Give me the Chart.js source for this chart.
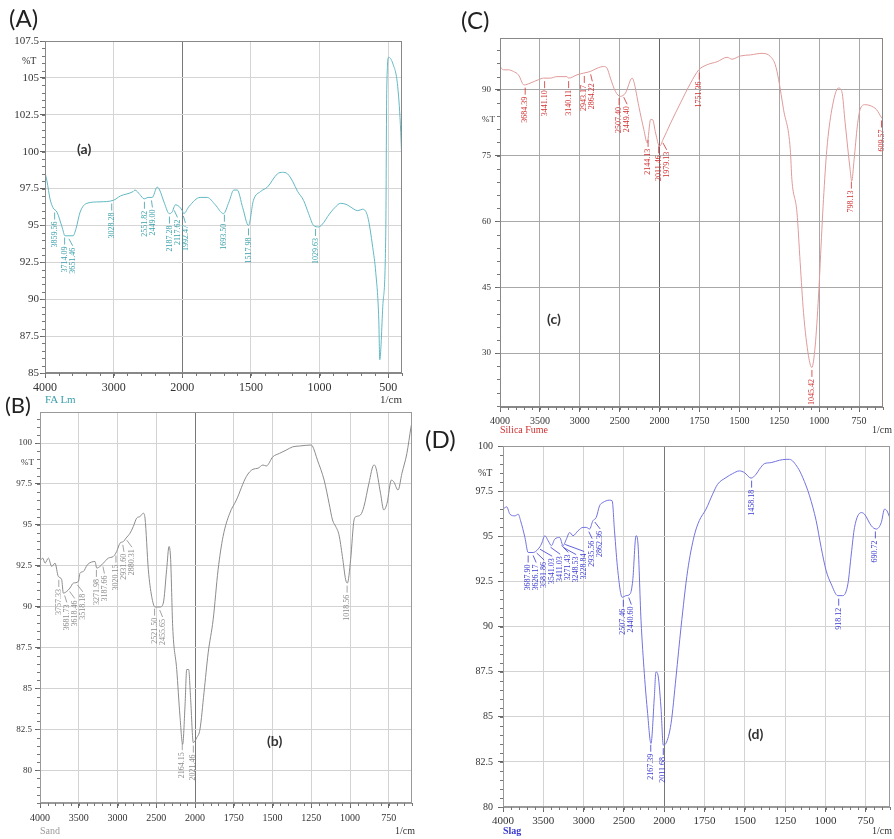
<!DOCTYPE html>
<html>
<head>
<meta charset="utf-8">
<script src="https://cdn.jsdelivr.net/npm/chart.js@4.4.1/dist/chart.umd.min.js"></script>
<style>
  body { margin: 0; background: #fff; width: 894px; height: 839px; position: relative; overflow: hidden; font-family: "Liberation Serif", serif; }
  .box { position: absolute; }
  .txt { position: absolute; white-space: nowrap; line-height: 1; }
  .letter { font-family: Lato, "Open Sans", sans-serif; font-size: 24px; color: #222; }
  .tag { font-family: Lato, "Open Sans", sans-serif; font-size: 14px; font-weight: bold; color: #333; }
  .unit { font-size: 10px; color: #333; }
</style>
</head>
<body>
<div class="box" style="left:0;top:29px;width:414px;height:374px"><canvas id="chartA"></canvas></div>
<div class="box" style="left:0;top:402px;width:422px;height:431px"><canvas id="chartB"></canvas></div>
<div class="box" style="left:455px;top:26px;width:436px;height:409px"><canvas id="chartC"></canvas></div>
<div class="box" style="left:458px;top:435px;width:436px;height:402px"><canvas id="chartD"></canvas></div>

<div class="txt letter" style="left:9px;top:6px">(A)</div>
<div class="txt letter" style="left:5px;top:394px;font-size:22px">(B)</div>
<div class="txt letter" style="left:461px;top:8px">(C)</div>
<div class="txt letter" style="left:425px;top:427px">(D)</div>

<div class="txt tag" style="left:77px;top:142px">(a)</div>
<div class="txt tag" style="left:267px;top:734px">(b)</div>
<div class="txt tag" style="left:547px;top:312px">(c)</div>
<div class="txt tag" style="left:748px;top:727px">(d)</div>

<div class="txt unit" style="left:22px;top:56px">%T</div>
<div class="txt unit" style="left:21px;top:458px;font-size:9px">%T</div>
<div class="txt unit" style="left:482px;top:115px;font-size:9px">%T</div>
<div class="txt unit" style="left:478px;top:468px">%T</div>

<div class="txt unit" style="left:380px;top:394px;font-size:11px">1/cm</div>
<div class="txt unit" style="left:395px;top:826px">1/cm</div>
<div class="txt unit" style="left:872px;top:425px">1/cm</div>
<div class="txt unit" style="left:872px;top:826px">1/cm</div>

<div class="txt unit" style="left:45px;top:394px;font-size:11px;color:#3aa0ab">FA Lm</div>
<div class="txt unit" style="left:40px;top:826px;color:#999">Sand</div>
<div class="txt unit" style="left:500px;top:425px;color:#d03030">Silica Fume</div>
<div class="txt unit" style="left:503px;top:826px;color:#3a3ad0;font-weight:bold">Slag</div>

<script>
// x tick labels (1/cm)
const ticksA = [4000, 3000, 2000, 1500, 1000, 500];
const ticksBCD = [4000, 3500, 3000, 2500, 2000, 1750, 1500, 1250, 1000, 750];

// (A) FA Lm
const waveA = [4000, 3971, 3927, 3883, 3825, 3752, 3708, 3650, 3591, 3547, 3489, 3390, 3200, 3007, 2900, 2715, 2690, 2620,
  2555, 2500, 2438, 2365, 2330, 2260, 2190, 2150, 2100, 2050, 2000, 1990, 1950, 1870, 1818, 1760, 1700, 1660, 1625, 1600,
  1560, 1518, 1482, 1430, 1380, 1307, 1270, 1234, 1197, 1160, 1117, 1080, 1044, 1007, 970, 942, 890, 847, 800, 750, 723,
  686, 650, 613, 591, 569, 562, 540, 518, 511, 497, 468, 431, 409, 400];
const transA = [98.6, 98.0, 96.8, 96.2, 95.9, 94.9, 94.3, 94.3, 94.3, 94.8, 95.9, 96.5, 96.6, 96.7, 97.0, 97.3, 97.4, 97.1,
  96.8, 96.9, 96.9, 97.6, 97.4, 96.5, 95.8, 95.9, 96.4, 96.3, 96.0, 95.8, 96.3, 96.9, 96.9, 96.4, 95.8, 96.6, 97.4, 97.4,
  96.2, 95.0, 96.7, 97.3, 97.6, 98.5, 98.6, 98.5, 98.0, 97.3, 96.7, 95.8, 95.0, 94.9, 95.2, 95.6, 96.2, 96.5, 96.4, 96.1, 96.0,
  96.1, 95.6, 93.5, 91.8, 88.6, 85.9, 89.5, 94.7, 104.2, 106.4, 106.0, 104.4, 101.3, 99.0];
const peaksA = [3859.56, 3714.09, 3651.46, 3028.28, 2551.82, 2449.00, 2187.28, 2117.62, 1992.47, 1693.50, 1517.98, 1029.63];

// (B) Sand
const waveB = [4000, 3965, 3935, 3892, 3849, 3806, 3764, 3720, 3699, 3656, 3613, 3570, 3505, 3484, 3441, 3389, 3290, 3268,
  3226, 3183, 3118, 3054, 3011, 2968, 2925, 2890, 2839, 2796, 2753, 2710, 2667, 2645, 2602, 2559, 2516, 2452, 2409, 2366,
  2335, 2314, 2288, 2236, 2194, 2159, 2129, 2107, 2082, 2056, 2022, 1989, 1968, 1942, 1915, 1883, 1851, 1819, 1776, 1733,
  1669, 1626, 1594, 1562, 1540, 1498, 1455, 1412, 1370, 1327, 1252, 1242, 1210, 1167, 1135, 1113, 1092, 1071, 1049, 1028,
  1017, 996, 974, 960, 932, 910, 878, 846, 835, 803, 782, 761, 733, 718, 690, 665, 633, 606, 600];
const transB = [92.8, 92.97, 92.66, 92.97, 92.46, 92.66, 91.85, 91.65, 90.83, 90.93, 91.14, 91.44, 91.54, 92.05, 92.15, 92.56,
  92.76, 92.36, 92.46, 92.66, 92.97, 93.07, 93.37, 93.88, 93.98, 94.19, 94.49, 94.9, 95.41, 95.51, 95.71, 95.41, 92.26, 90.63,
  89.98, 89.98, 90.22, 92.26, 93.68, 92.87, 88.8, 86.16, 83.31, 81.59, 83.92, 86.16, 86.16, 84.33, 81.69, 81.99, 82.5, 84.74,
  87.18, 89.2, 92.26, 94.29, 95.71, 96.52, 97.95, 98.4, 98.46, 98.66, 98.6, 99.16, 99.37, 99.57, 99.77, 99.82, 99.88, 99.82,
  98.96, 97.74, 96.32, 95.3, 94.9, 94.39, 93.07, 91.65, 91.44, 92.87, 95.3, 95.51, 95.61, 96.12, 97.54, 98.66, 98.56, 96.93,
  95.91, 96.32, 97.74, 97.64, 97.13, 98.15, 99.37, 101.0, 101.3];
const peaksB = [3757.33, 3681.73, 3618.46, 3518.18, 3271.98, 3187.66, 3020.15, 2931.60, 2880.31, 2521.50, 2455.65,
  2164.15, 2021.46, 1018.56];

// (C) Silica Fume
const waveC = [4000, 3958, 3895, 3832, 3769, 3698, 3623, 3518, 3455, 3371, 3287, 3161, 3141, 3035, 2952, 2868, 2784, 2700,
  2658, 2616, 2553, 2491, 2428, 2344, 2323, 2260, 2197, 2155, 2113, 2088, 2050, 2000, 1979, 1931, 1869, 1806, 1754, 1702,
  1639, 1577, 1546, 1494, 1431, 1358, 1306, 1275, 1254, 1223, 1181, 1171, 1139, 1119, 1098, 1067, 1046, 1025, 1004, 983,
  973, 952, 921, 879, 858, 837, 806, 796, 781, 761, 744, 712, 681, 640, 608, 600];
const transC = [95.3, 94.55, 94.55, 94.17, 93.4, 91.1, 91.5, 92.3, 92.65, 92.65, 93.0, 93.0, 92.65, 93.4, 93.8, 94.17, 94.9,
  95.3, 94.9, 92.65, 89.6, 88.5, 89.24, 92.65, 91.9, 86.2, 80.9, 77.9, 83.2, 83.2, 80.15, 77.1, 78.6, 82.4, 87.0, 91.5, 94.55,
  95.7, 96.4, 97.4, 96.97, 97.7, 97.95, 98.3, 97.6, 95.7, 92.3, 85.45, 76.4, 69.55, 61.97, 50.6, 39.2, 29.4, 26.7, 31.6, 43.0,
  58.2, 65.0, 76.4, 85.45, 90.4, 89.6, 82.4, 71.8, 69.2, 74.1, 81.7, 85.45, 86.6, 86.4, 85.45, 83.6, 83.3];
const peaksC = [3684.39, 3441.10, 3140.11, 2943.17, 2864.22, 2507.40, 2449.40, 2144.13, 2011.46, 1979.13, 1751.36,
  1045.42, 798.13, 609.57];

// (D) Slag
const waveD = [4000, 3954, 3914, 3852, 3811, 3782, 3728, 3688, 3626, 3564, 3523, 3481, 3440, 3399, 3358, 3296, 3255, 3214,
  3173, 3132, 3070, 3008, 2967, 2926, 2885, 2844, 2802, 2761, 2679, 2646, 2617, 2576, 2522, 2473, 2424, 2391, 2350, 2329,
  2288, 2247, 2206, 2165, 2123, 2103, 2082, 2041, 2012, 1990, 1958, 1927, 1896, 1855, 1814, 1783, 1741, 1700, 1669, 1617,
  1576, 1534, 1503, 1462, 1430, 1410, 1379, 1337, 1286, 1244, 1224, 1172, 1141, 1099, 1058, 1027, 996, 965, 924, 893, 861,
  840, 820, 778, 758, 716, 685, 654, 634, 619, 602];
const transD = [96.5, 96.63, 96.22, 96.13, 96.22, 95.86, 94.93, 94.1, 94.1, 94.29, 94.57, 95.03, 94.75, 94.48, 94.84, 94.93,
  94.48, 94.84, 95.21, 95.03, 95.3, 95.49, 95.49, 95.4, 95.86, 96.04, 96.69, 96.87, 97.0, 96.96, 95.3, 93.09, 91.62, 91.71,
  91.8, 92.54, 95.03, 94.75, 90.33, 87.39, 85.18, 83.52, 86.1, 87.48, 87.39, 85.54, 83.43, 83.52, 84.62, 87.2, 89.96, 93.09,
  95.03, 95.86, 96.5, 97.33, 97.88, 98.25, 98.47, 98.62, 98.53, 98.22, 98.44, 98.71, 99.02, 99.08, 99.21, 99.26, 99.26, 98.8,
  98.25, 97.24, 95.86, 94.38, 93.09, 92.36, 91.71, 91.71, 92.36, 94.02, 95.49, 96.31, 96.22, 95.58, 95.4, 95.76, 96.5, 96.41,
  96.04];
const peaksD = [3687.90, 3626.17, 3581.86, 3541.03, 3411.03, 3271.43, 3248.53, 3228.84, 2935.56, 2862.36, 2507.46,
  2440.60, 2167.39, 2011.68, 1458.18, 918.12, 690.72];

// the spectrometer halves the scale above 2000 1/cm
function toAxis(w) { return w > 2000 ? 2000 + (w - 2000) / 2 : w; }
function fromAxis(t) { return t > 2000 ? 2000 + (t - 2000) * 2 : t; }

const minorTicks = {
  id: 'minorTicks',
  afterDraw(chart, args, o) {
    const { ctx, chartArea: a, scales: { x, y } } = chart;
    ctx.save();
    ctx.strokeStyle = o.color;
    ctx.lineWidth = 1;
    ctx.beginPath();
    for (let i = Math.ceil(x.min / o.xStep); i * o.xStep <= x.max; i++) {
      const px = Math.round(x.getPixelForValue(i * o.xStep)) + 0.5;
      ctx.moveTo(px, a.bottom);
      ctx.lineTo(px, a.bottom + o.len);
    }
    for (let i = Math.ceil(y.min / o.yStep - 1e-9); i * o.yStep <= y.max + 1e-9; i++) {
      const py = Math.round(y.getPixelForValue(i * o.yStep)) + 0.5;
      ctx.moveTo(a.left, py);
      ctx.lineTo(a.left - o.len, py);
    }
    ctx.stroke();
    ctx.strokeStyle = o.frame;
    ctx.strokeRect(a.left + 0.5, a.top + 0.5, a.width - 1, a.height - 1);
    ctx.restore();
  }
};

const peakLabels = {
  id: 'peakLabels',
  afterDatasetsDraw(chart, args, o) {
    const { ctx, scales: { x, y } } = chart;
    const pts = chart.data.datasets[0].data;
    const marks = o.peaks.map(w => {
      const t = toAxis(w);
      let v = pts[pts.length - 1].y;
      for (let i = 0; i < pts.length - 1; i++) {
        const p = pts[i], q = pts[i + 1];
        if (t <= p.x && t >= q.x) { v = p.y + (q.y - p.y) * (p.x - t) / (p.x - q.x); break; }
      }
      return { px: x.getPixelForValue(t), py: y.getPixelForValue(v), text: w.toFixed(2) };
    }).sort((m, n) => m.px - n.px);
    let last = -1e9;
    marks.forEach(m => { m.lx = Math.max(m.px, last + o.gap); last = m.lx; });
    ctx.save();
    ctx.strokeStyle = o.color;
    ctx.fillStyle = o.color;
    ctx.lineWidth = 0.8;
    ctx.font = o.font;
    ctx.textAlign = 'right';
    ctx.textBaseline = 'middle';
    marks.forEach(m => {
      ctx.beginPath();
      ctx.moveTo(m.px, m.py + 3);
      ctx.lineTo(m.lx, m.py + 10);
      ctx.stroke();
      ctx.save();
      ctx.translate(m.lx, m.py + 12);
      ctx.rotate(-Math.PI / 2);
      ctx.fillText(m.text, 0, 0);
      ctx.restore();
    });
    ctx.restore();
  }
};

function makeChart(id, c) {
  const pts = c.wave.map((w, i) => ({ x: toAxis(w), y: c.trans[i] }));
  return new Chart(document.getElementById(id), {
    type: 'line',
    data: {
      datasets: [{
        data: pts,
        borderColor: c.color,
        borderWidth: 1,
        pointRadius: 0,
        fill: false,
        cubicInterpolationMode: 'monotone'
      }]
    },
    options: {
      responsive: true,
      maintainAspectRatio: false,
      animation: false,
      layout: { padding: { top: c.padTop, right: c.padRight, left: 0, bottom: 0 } },
      plugins: {
        legend: { display: false },
        tooltip: { enabled: false },
        minorTicks: { xStep: c.xMinor, yStep: c.yMinor, len: 3, color: '#777', frame: c.frame },
        peakLabels: { peaks: c.peaks, color: c.label, font: '8px "Liberation Serif"', gap: 8 }
      },
      scales: {
        x: {
          type: 'linear',
          reverse: true,
          min: toAxis(c.xMin),
          max: toAxis(4000),
          afterBuildTicks: s => { s.ticks = c.xTicks.map(w => ({ value: toAxis(w) })); },
          afterFit: s => { s.height = c.xH; },
          border: { color: c.frame },
          grid: {
            color: g => (g.tick && g.tick.value === 2000 ? c.midGrid : c.grid),
            tickLength: 5,
            tickColor: '#666'
          },
          ticks: {
            autoSkip: false,
            maxRotation: 0,
            padding: c.xPad,
            color: '#333',
            font: { family: '"Liberation Serif"', size: c.xFont },
            callback: v => String(fromAxis(v))
          }
        },
        y: {
          min: c.yMin,
          max: c.yMax,
          afterFit: s => { s.width = c.yW; },
          border: { color: c.frame },
          grid: { color: c.grid, tickLength: 5, tickColor: '#666' },
          ticks: {
            stepSize: c.yStep,
            includeBounds: false,
            padding: c.yPad,
            color: '#333',
            font: { family: '"Liberation Serif"', size: c.yFont }
          }
        }
      }
    },
    plugins: [minorTicks, peakLabels]
  });
}

makeChart('chartA', {
  wave: waveA, trans: transA, peaks: peaksA, xTicks: ticksA,
  color: '#62b8c3', label: '#3aa0ab', grid: '#d5d5d5', midGrid: '#777', frame: '#888',
  xMin: 400, xMinor: 100, yMin: 85, yMax: 107.5, yStep: 2.5, yMinor: 0.5,
  yW: 45, xH: 30, padTop: 12, padRight: 12, xPad: 3, yPad: 1, xFont: 12, yFont: 11
});

makeChart('chartB', {
  wave: waveB, trans: transB, peaks: peaksB, xTicks: ticksBCD,
  color: '#8c8c8c', label: '#8c8c8c', grid: '#d3d3d3', midGrid: '#777', frame: '#999',
  xMin: 600, xMinor: 50, yMin: 78, yMax: 101.9, yStep: 2.5, yMinor: 0.5,
  yW: 40, xH: 30, padTop: 10, padRight: 10, xPad: 4, yPad: 3, xFont: 10, yFont: 9
});

makeChart('chartC', {
  wave: waveC, trans: transC, peaks: peaksC, xTicks: ticksBCD,
  color: '#e09a9a', label: '#d03030', grid: '#a8a8a8', midGrid: '#666', frame: '#888',
  xMin: 600, xMinor: 50, yMin: 17.7, yMax: 101.8, yStep: 15, yMinor: 3,
  yW: 45, xH: 28, padTop: 12, padRight: 8, xPad: 3, yPad: 4, xFont: 10, yFont: 9
});

makeChart('chartD', {
  wave: waveD, trans: transD, peaks: peaksD, xTicks: ticksBCD,
  color: '#7272e0', label: '#3a3ad0', grid: '#d3d3d3', midGrid: '#777', frame: '#999',
  xMin: 600, xMinor: 50, yMin: 80, yMax: 100, yStep: 2.5, yMinor: 0.5,
  yW: 45, xH: 30, padTop: 10, padRight: 4, xPad: 3, yPad: 5, xFont: 11, yFont: 10
});
</script>
</body>
</html>
